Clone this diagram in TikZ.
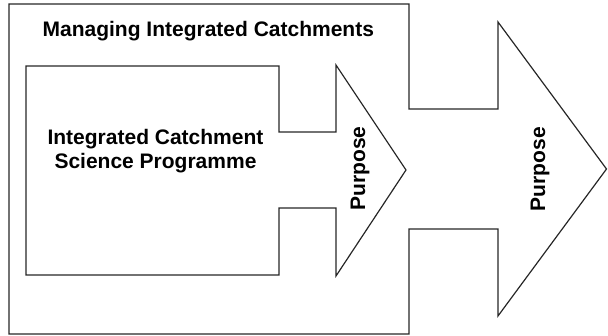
\documentclass[tikz,border=0pt]{standalone}
\usepackage{fontspec}
\setmainfont{Liberation Sans}
\begin{document}
\begin{tikzpicture}[x=1pt,y=-1pt,
  outline/.style={draw=black!85,line width=1.2pt,line join=miter},
  label/.style={font=\bfseries\fontsize{21}{24}\selectfont,inner sep=0pt,align=center}]
\useasboundingbox (0,0) rectangle (608,336);
% outer frame with its broad arrow
\draw[outline] (9,4) -- (409,4) -- (409,109) -- (498,109) -- (498,22)
  -- (606.5,169) -- (498,316) -- (498,229) -- (409,229) -- (409,334)
  -- (9,334) -- cycle;
% inner programme box with its narrow arrow
\draw[outline] (26,66) -- (279,66) -- (279,132) -- (336,132) -- (336,65)
  -- (406,170) -- (336,276) -- (336,208) -- (279,208) -- (279,275)
  -- (26,275) -- cycle;
\node[label,anchor=base] (mic) at (208.3,36.5) {Managing Integrated Catchments};
\node[label,anchor=base] (icsp) at (155.5,168.3) {Integrated Catchment\\Science Programme};
\node[label,rotate=90,anchor=base] (p1) at (365,168.6) {Purpose};
\node[label,rotate=90,anchor=base] (p2) at (545,169) {Purpose};
\end{tikzpicture}
\end{document}
